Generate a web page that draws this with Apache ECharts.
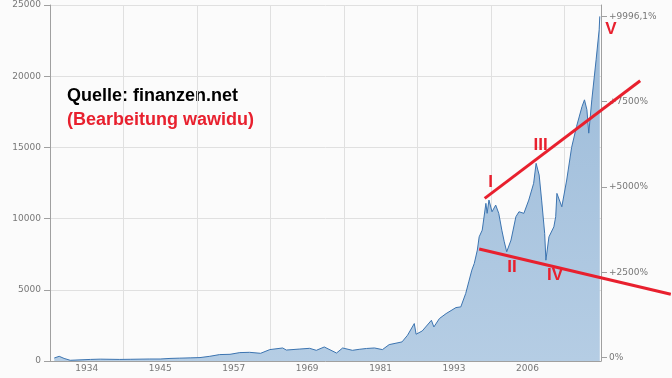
<!DOCTYPE html>
<html>
<head>
<meta charset="utf-8">
<script src="https://cdn.jsdelivr.net/npm/echarts@6/dist/echarts.min.js"></script>
<style>
  html, body { margin: 0; padding: 0; background: #fbfbfb; }
  #chart { width: 672px; height: 378px; }
</style>
</head>
<body>
<div id="chart"></div>
<script>
// Positionsjahre (Achse beginnt 1928) und Indexstand
var years = [1928.7, 1929.5, 1930.3, 1931.3, 1932.9, 1934.6, 1936.2, 1937.8, 1939.4, 1941.1,
    1942.7, 1944.3, 1946.0, 1947.6, 1949.2, 1950.9, 1952.5, 1954.1, 1955.7, 1957.4,
    1959.0, 1960.6, 1962.4, 1963.9, 1966.0, 1966.6, 1968.8, 1970.4, 1971.5, 1972.8,
    1974.8, 1975.8, 1977.4, 1978.5, 1979.7, 1981.0, 1982.3, 1983.4, 1985.5, 1986.4,
    1987.5, 1987.8, 1988.8, 1990.3, 1990.7, 1991.6, 1992.7, 1994.3, 1995.1, 1995.9,
    1996.4, 1996.9, 1997.3, 1997.8, 1998.1, 1998.6, 1999.2, 1999.4, 1999.7, 2000.2,
    2000.8, 2001.3, 2001.8, 2002.2, 2002.6, 2003.3, 2004.1, 2004.6, 2005.4, 2006.2,
    2007.0, 2007.4, 2007.9, 2008.3, 2008.8, 2009.0, 2009.5, 2010.3, 2010.6, 2010.8,
    2011.6, 2012.4, 2013.2, 2014.0, 2014.9, 2015.3, 2015.7, 2016.0, 2016.5, 2017.2,
    2017.7, 2017.8];
var values = [210, 330, 180, 50, 80, 110, 130, 120, 110, 120,
    130, 140, 140, 180, 200, 220, 240, 330, 450, 470,
    590, 610, 540, 800, 915, 770, 840, 890, 750, 985,
    560, 915, 750, 820, 880, 915, 800, 1150, 1340, 1810,
    2630, 1880, 2110, 2860, 2390, 2980, 3330, 3750, 3800, 4740,
    5560, 6380, 6850, 7790, 8720, 9190, 11070, 10370, 11300, 10480,
    10950, 10370, 9190, 8370, 7670, 8490, 10130, 10480, 10370, 11300,
    12480, 13880, 13060, 11300, 8960, 7080, 8720, 9420, 10130, 11770,
    10830, 12710, 15000, 16460, 17870, 18340, 17640, 16000, 18340, 21150,
    23260, 24200];

var axisStart = 1928;
var axisSpan = 90;
var tickLabels = ['1934', '1945', '1957', '1969', '1981', '1993', '2006'];
var startValue = 239.7;
var pctTicks = [0, 2500, 5000, 7500, 9996.1];

// Trendlinien (Bearbeitung) und Wellenzaehlung
var upperLine = [[1999.0, 11420], [2024.4, 19680]];
var lowerLine = [[1998.1, 7860], [2029.4, 4690]];
var waveNames = ['I', 'II', 'III', 'IV', 'V'];
var waveYears = [1999.95, 2003.45, 2008.15, 2010.5, 2019.6];
var waveValues = [12560, 6600, 15180, 6050, 23310];

var red = '#e8202e';
var grey = '#777';
var W = 672, gl = 50, gr = 71, gt = 5, gb = 17;

function shift(pts) {
    return pts.map(function (p) { return [p[0] - axisStart, p[1]]; });
}

var myChart = echarts.init(document.getElementById('chart'));
myChart.setOption({
    backgroundColor: '#fbfbfb',
    animation: false,
    grid: [
        { left: gl, right: gr, top: gt, bottom: gb },
        // Overlay bis zum rechten Rand, gleicher Massstab, fuer die Bearbeitung
        { left: gl, right: 0, top: gt, bottom: gb }
    ],
    xAxis: [{
        type: 'value', min: 0, max: axisSpan, interval: 12,
        axisLine: { lineStyle: { color: '#a0a0a0' } },
        axisTick: { show: false },
        splitLine: { lineStyle: { color: '#e0e0e0' } },
        axisLabel: {
            customValues: tickLabels.map(function (t, i) { return 6 + 12 * i; }),
            formatter: function (v) { return tickLabels[Math.round((v - 6) / 12)]; },
            color: grey, fontFamily: 'DejaVu Sans', fontSize: 9, margin: 3
        }
    }, {
        type: 'value', gridIndex: 1, min: 0,
        max: axisSpan * (W - gl) / (W - gl - gr),
        show: false, splitLine: { show: false }
    }],
    yAxis: [{
        type: 'value', min: 0, max: 25000, interval: 5000,
        axisLine: { show: true, lineStyle: { color: '#a0a0a0' } },
        axisTick: { show: true, length: 6, lineStyle: { color: '#a0a0a0' } },
        splitLine: { lineStyle: { color: '#e0e0e0' } },
        axisLabel: {
            color: grey, fontFamily: 'DejaVu Sans', fontSize: 9, margin: 9,
            formatter: function (v) { return String(v); }
        }
    }, {
        type: 'value', position: 'right',
        min: -100, max: (25000 / startValue - 1) * 100,
        axisLine: { show: true, lineStyle: { color: '#a0a0a0' } },
        axisTick: { show: true, length: 6, customValues: pctTicks, lineStyle: { color: '#a0a0a0' } },
        splitLine: { show: false },
        axisLabel: {
            customValues: pctTicks,
            margin: 8,
            fontFamily: 'DejaVu Sans', fontSize: 9,
            color: function (v) { return v === pctTicks[pctTicks.length - 1] ? '#2a9a2a' : grey; },
            formatter: function (v) {
                if (v === 0) return '0%';
                return '+' + String(v).replace('.', ',') + '%';
            }
        }
    }, {
        type: 'value', gridIndex: 1, min: 0, max: 25000,
        show: false, splitLine: { show: false }
    }],
    graphic: [{
        type: 'text', left: 67, top: 87,
        style: { text: 'Quelle: finanzen.net', fill: '#000', font: 'bold 18px "Liberation Sans"' }
    }, {
        type: 'text', left: 67, top: 111,
        style: { text: '(Bearbeitung wawidu)', fill: red, font: 'bold 18px "Liberation Sans"' }
    }],
    series: [{
        type: 'line',
        data: years.map(function (y, i) { return [y - axisStart, values[i]]; }),
        showSymbol: false,
        lineStyle: { color: '#3c74b0', width: 1 },
        areaStyle: {
            opacity: 1,
            color: new echarts.graphic.LinearGradient(0, 0, 0, 1, [
                { offset: 0, color: '#9cbbd9' },
                { offset: 1, color: '#b5cde4' }
            ])
        },
        z: 2
    }, {
        type: 'line', xAxisIndex: 1, yAxisIndex: 2,
        data: shift(upperLine), symbol: 'none',
        lineStyle: { color: red, width: 3 }, z: 4
    }, {
        type: 'line', xAxisIndex: 1, yAxisIndex: 2,
        data: shift(lowerLine), symbol: 'none',
        lineStyle: { color: red, width: 3 }, z: 4
    }, {
        type: 'scatter', xAxisIndex: 1, yAxisIndex: 2,
        symbolSize: 0,
        itemStyle: { opacity: 1, color: 'transparent' },
        data: waveNames.map(function (n, i) { return [waveYears[i] - axisStart, waveValues[i], n]; }),
        label: {
            show: true, position: 'inside', opacity: 1,
            formatter: function (p) { return p.data[2]; },
            color: red, fontFamily: 'Liberation Sans', fontWeight: 'bold', fontSize: 17
        },
        z: 5
    }]
});
</script>
</body>
</html>
